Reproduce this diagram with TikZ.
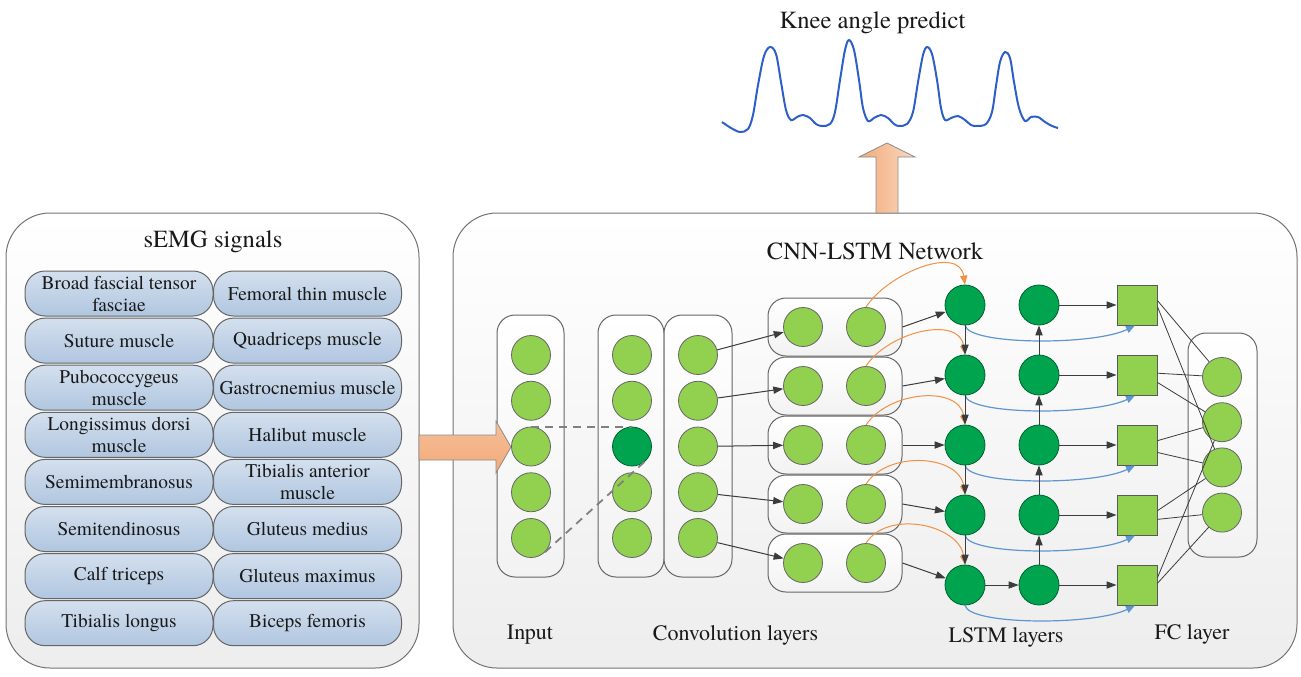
\documentclass[tikz,border=0pt]{standalone}
\usepackage{fontspec}
\IfFontExistsTF{texgyretermes-regular.otf}{%
  \setmainfont{texgyretermes}[Extension=.otf, UprightFont=*-regular,
    BoldFont=*-bold, ItalicFont=*-italic, BoldItalicFont=*-bolditalic]}{}
\usetikzlibrary{arrows.meta,calc}

\definecolor{leafgreen}{RGB}{146,208,80}
\definecolor{deepgreen}{RGB}{0,164,78}
\definecolor{muscleblue}{RGB}{176,198,224}
\definecolor{peach}{RGB}{242,170,120}
\definecolor{curveorange}{RGB}{240,145,70}
\definecolor{curveblue}{RGB}{95,150,210}
\definecolor{wave}{RGB}{45,95,200}
\definecolor{edgegray}{RGB}{60,60,60}

\begin{document}
\begin{tikzpicture}[x=0.5pt,y=-0.5pt,
  panel/.style={draw=black!55, line width=0.5pt, rounded corners=22pt,
    top color=white, bottom color=black!7, inner sep=0pt},
  colbox/.style={draw=black!60, line width=0.5pt, rounded corners=9pt,
    top color=white, bottom color=black!5, inner sep=0pt},
  musc/.style={draw=black!60, line width=0.5pt, rounded corners=10pt,
    top color=muscleblue!55, bottom color=muscleblue,
    minimum width=94pt, minimum height=22.5pt, inner sep=1pt,
    align=center, text=black!90, font=\fontsize{9.7}{11}\selectfont},
  neuron/.style={circle, fill=leafgreen, draw=black!60, line width=0.4pt,
    minimum size=19.5pt, inner sep=0pt},
  lstmcell/.style={circle, fill=deepgreen, draw=deepgreen!60!black,
    line width=0.4pt, minimum size=20pt, inner sep=0pt},
  fcsq/.style={rectangle, fill=leafgreen, draw=black!65, line width=0.5pt,
    minimum size=20pt, inner sep=0pt},
  arr/.style={draw=edgegray, line width=0.5pt,
    -{Triangle[length=5pt,width=3.6pt]}},
  orangearr/.style={draw=curveorange, line width=0.5pt,
    -{Triangle[length=4.5pt,width=3.6pt]}},
  bluearr/.style={draw=curveblue, line width=0.6pt,
    -{Triangle[length=4.5pt,width=3.6pt]}},
  link/.style={draw=edgegray, line width=0.4pt},
  dashlink/.style={draw=black!50, line width=0.9pt, dash pattern=on 4pt off 3pt},
  bigarrow/.style={draw=black!45, line width=0.4pt,
    top color=peach!75, bottom color=peach},
  uparrow/.style={draw=black!45, line width=0.4pt,
    left color=peach, right color=peach!45},
  title/.style={font=\fontsize{12.3}{14}\selectfont, text=black!90},
  label/.style={font=\fontsize{11}{13}\selectfont, text=black!90}
]
\useasboundingbox (0,0) rectangle (1301,676);

% ---------- panels ----------
\node[panel, minimum width=206.5pt, minimum height=227.5pt] (leftpanel) at (212.5,440.5) {};
\node[panel, minimum width=422pt, minimum height=227.5pt] (rightpanel) at (875,440.5) {};

\node[title] (semgtitle) at (213,242) {sEMG signals};
\node[title] (nettitle) at (875,251) {CNN-LSTM Network};

% ---------- muscle boxes ----------
\foreach \i/\lt/\rt in {
  1/{Broad fascial tensor\\fasciae}/{Femoral thin muscle},
  2/{Suture muscle}/{Quadriceps muscle},
  3/{Pubococcygeus\\muscle}/{Gastrocnemius muscle},
  4/{Longissimus dorsi\\muscle}/{Halibut muscle},
  5/{Semimembranosus}/{Tibialis anterior\\muscle},
  6/{Semitendinosus}/{Gluteus medius},
  7/{Calf triceps}/{Gluteus maximus},
  8/{Tibialis longus}/{Biceps femoris}} {
  \node[musc] (ml\i) at (119,{293.5+47.1*(\i-1)}) {\lt};
  \node[musc] (mr\i) at (307.5,{293.5+47.1*(\i-1)}) {\rt};
}

% ---------- output signal ----------
\node[title] (kneetitle) at (872.5,23) {Knee angle predict};
\draw[wave, line width=1pt, line join=round] plot[smooth, tension=0.55] coordinates {
  (722,122) (731,128) (740,132) (748,129) (753,115) (758,85) (764,56) (770,47)
  (776,54) (781,82) (786,110) (791,120) (797,117) (803,115) (810,118) (816,124)
  (822,126) (830,124) (835,112) (840,80) (845,50) (849,40) (854,50) (859,80)
  (863,108) (868,121) (874,118) (881,115) (888,118) (894,124) (899,126)
  (907,124) (913,112) (918,82) (923,55) (927,47) (932,54) (937,80) (941,108)
  (945,120) (951,118) (958,116) (965,120) (971,125) (977,126) (986,124)
  (992,112) (996,86) (1000,62) (1005,52) (1010,58) (1014,82) (1019,108)
  (1025,121) (1031,117) (1038,117) (1045,122) (1052,126) (1058,128)};

% ---------- input and convolution columns ----------
\node[colbox, minimum width=33.5pt, minimum height=131pt] (inbox) at (530.5,446) {};
\node[colbox, minimum width=33pt, minimum height=131pt] (convA) at (631,446) {};
\node[colbox, minimum width=34pt, minimum height=131pt] (convB) at (698,446) {};

% ---------- block arrows ----------
\path[bigarrow] (419,435) -- (496,435) -- (496,421) -- (511,447)
  -- (496,473) -- (496,460) -- (419,460) -- cycle;
\path[uparrow] (876,213) -- (876,157) -- (859,157) -- (887,143)
  -- (915,157) -- (898,157) -- (898,213) -- cycle;

\foreach \i in {1,...,5} {
  \node[neuron] (in\i) at (531,{355+45.75*(\i-1)}) {};
  \node[neuron] (cb\i) at (698,{355+45.75*(\i-1)}) {};
}
\foreach \i in {1,2,4,5} {
  \node[neuron] (ca\i) at (632,{355+45.75*(\i-1)}) {};
}
\node[lstmcell, minimum size=19.5pt] (ca3) at (632,446.5) {};

% receptive field of the highlighted unit
\draw[dashlink] (in3.north) -- (ca3.north);
\draw[dashlink] (in5.-45) -- (ca3.-40);

% ---------- paired convolution units ----------
\foreach \i in {1,...,5} {
  \node[colbox, minimum width=67pt, minimum height=29pt] (pb\i) at (835,{327+59*(\i-1)}) {};
  \node[neuron] (pl\i) at (803,{327+59*(\i-1)}) {};
  \node[neuron] (pr\i) at (866,{327+59*(\i-1)}) {};
  \draw[arr] (cb\i) -- (pl\i);
}

% ---------- LSTM layers and FC squares ----------
\foreach \i in {1,...,5} {
  \node[lstmcell] (la\i) at (965,{305+70*(\i-1)}) {};
  \node[lstmcell] (lb\i) at (1039,{305+70*(\i-1)}) {};
  \node[fcsq] (sq\i) at (1137,{305+70*(\i-1)}) {};
}
\foreach \i in {1,...,5} {
  \draw[arr] (pb\i.east) -- (la\i);
  \draw[orangearr] (pr\i.north) .. controls +(22,-34) and +(-6,-40) .. (la\i.north);
  \draw[arr] (lb\i) -- (sq\i);
  \draw[bluearr] (la\i.south) .. controls +(4,20) and +(-40,20) .. ([xshift=-1pt]sq\i.south);
}
\foreach \i/\j in {1/2,2/3,3/4,4/5} {
  \draw[arr] (la\i) -- (la\j);
  \draw[arr] (lb\j) -- (lb\i);
}
\draw[arr] (la5) -- (lb5);

% ---------- fully connected layer ----------
\node[colbox, minimum width=34.5pt, minimum height=112pt] (fcbox) at (1222.5,445) {};
\foreach \j in {1,...,4} {
  \node[neuron] (fc\j) at (1222,{377+45.2*(\j-1)}) {};
}
\foreach \s/\a/\t in {1/12/1,1/-5/3,2/5/1,2/-20/2,3/12/2,3/-20/3,4/12/3,4/-12/4,5/5/4,5/20/2} {
  \draw[link] (sq\s.\a) -- (fc\t);
}

% ---------- captions ----------
\node[label] (capin) at (530,635) {Input};
\node[label] (capconv) at (735.5,635) {Convolution layers};
\node[label] (caplstm) at (1006,637) {LSTM layers};
\node[label] (capfc) at (1192,634) {FC layer};
\end{tikzpicture}
\end{document}
